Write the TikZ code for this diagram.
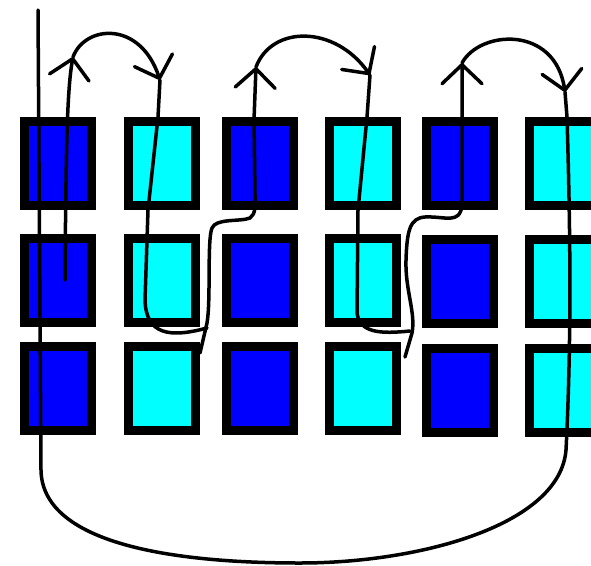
\documentclass[tikz,border=0pt]{standalone}
\usetikzlibrary{arrows.meta}
\definecolor{cellblue}{RGB}{0,0,255}
\definecolor{cellcyan}{RGB}{0,255,255}
\begin{document}
\begin{tikzpicture}[x=1pt,y=-1pt,
  cell/.style={draw=black,line width=9pt,minimum width=67pt,minimum height=84pt,inner sep=0pt,outer sep=0pt},
  dark/.style={cell,fill=cellblue},
  light/.style={cell,fill=cellcyan},
  wire/.style={draw=black,line width=3.5pt,line join=round,line cap=round},
  barb/.style={-{Straight Barb[length=19pt,width=40pt,round]}}]
\useasboundingbox (0,0) rectangle (591,565);
% boxes
\node[dark]  (a1) at (58,163.5) {};
\node[dark]  (a2) at (58,280) {};
\node[dark]  (a3) at (58,388.5) {};
\node[light] (b1) at (161.5,163.5) {};
\node[light] (b2) at (161.5,280) {};
\node[light] (b3) at (161.5,388.5) {};
\node[dark]  (c1) at (260,163.5) {};
\node[dark]  (c2) at (260,280) {};
\node[dark]  (c3) at (260,388.5) {};
\node[light] (d1) at (362.5,163.5) {};
\node[light] (d2) at (362.5,280) {};
\node[light] (d3) at (362.5,388.5) {};
\node[dark]  (e1) at (460,163.5) {};
\node[dark]  (e2) at (460,281.5) {};
\node[dark]  (e3) at (460,390) {};
\node[light] (f1) at (563,163.5) {};
\node[light] (f2) at (563,281.5) {};
\node[light] (f3) at (563,390) {};
% key points
\coordinate (s)  at (65,280);
\coordinate (t1) at (73,57);
\coordinate (t2) at (160,80);
\coordinate (h1) at (207,328);
\coordinate (h1e) at (200,353);
\coordinate (t3) at (256,67);
\coordinate (t4) at (370,75);
\coordinate (h2) at (410,331);
\coordinate (h2e) at (405,357);
\coordinate (t5) at (462,63);
\coordinate (t6) at (565,92);
\coordinate (bot) at (300,563);
\coordinate (top) at (38,10);
% path
\draw[wire,barb] (s) .. controls (66,150) and (67,90) .. (t1);
\draw[wire,barb] (t1) .. controls (85,25) and (140,20) .. (t2);
\draw[wire] (t2) -- (158,117) -- (148,210) -- (145,300) .. controls (146,335) and (170,338) .. (h1);
\draw[wire,barb] (h1e) -- (207,323) .. controls (211,300) and (207,240) .. (212,228)
   .. controls (216,218) and (240,222) .. (250,218) .. controls (256,214) and (255,205) .. (255,195)
   -- (254,120) -- (t3);
\draw[wire,barb] (t3) .. controls (272,25) and (335,25) .. (t4);
\draw[wire] (t4) -- (367,117) -- (358,210) -- (357,313) .. controls (360,333) and (380,334) .. (h2);
\draw[wire,barb] (h2e) -- (412,333) .. controls (416,313) and (405,290) .. (406,260)
   .. controls (407,230) and (410,218) .. (425,217) .. controls (445,216) and (460,225) .. (462,205)
   -- (t5);
\draw[wire,barb] (t5) .. controls (480,30) and (555,25) .. (t6);
\draw[wire] (t6) -- (567,117) .. controls (570,220) and (572,330) .. (566,450)
   .. controls (560,525) and (420,563) .. (bot)
   .. controls (160,563) and (42,540) .. (41,470) -- (top);
\end{tikzpicture}
\end{document}
